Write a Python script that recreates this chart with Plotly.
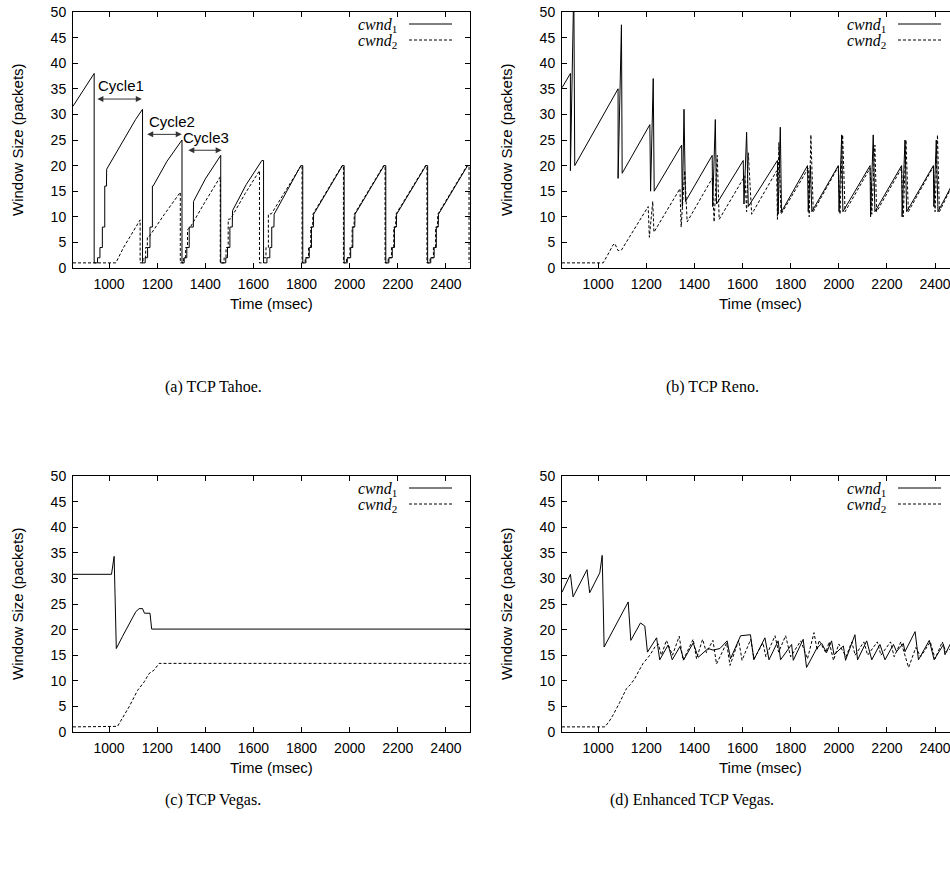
import plotly.graph_objects as go

# ---------------- DATA ----------------
# (a) TCP Tahoe
tahoe_t1 = [850, 938, 938, 952, 952, 962, 962, 972, 972, 982, 982, 989, 990, 1030, 1070, 1110, 1139,
            1139, 1150, 1150, 1160, 1160, 1170, 1170, 1180, 1180, 1183, 1240, 1303,
            1303, 1312, 1312, 1323, 1323, 1333, 1333, 1350, 1351, 1400, 1464,
            1464, 1485, 1485, 1492, 1492, 1502, 1502, 1512, 1513, 1570, 1635, 1642,
            1642, 1656, 1656, 1668, 1668, 1676, 1676, 1685, 1686, 1797, 1805,
            1805, 1818, 1818, 1832, 1832, 1841, 1841, 1849, 1850, 1970, 1977,
            1977, 1990, 1990, 2004, 2004, 2013, 2013, 2021, 2022, 2143, 2150,
            2150, 2163, 2163, 2177, 2177, 2186, 2186, 2194, 2195, 2317, 2324,
            2324, 2337, 2337, 2351, 2351, 2360, 2360, 2368, 2369, 2490, 2500]
tahoe_w1 = [31.6, 38.0, 1, 1, 2, 2, 4, 4, 8, 8, 16, 16, 19.3, 22.6, 25.9, 29.0, 31.0,
            1, 1, 2, 2, 4, 4, 8, 8, 16, 16, 20.8, 25.0,
            1, 1, 2, 2, 4, 4, 8, 8, 13, 17.4, 22.0,
            1, 1, 2, 2, 4, 4, 8, 8, 11.2, 16.3, 21.0, 21.0,
            1, 1, 2, 2, 4, 4, 8, 8, 10.5, 20.0, 20.0,
            1, 1, 2, 2, 4, 4, 8, 8, 10.5, 20.0, 20.0,
            1, 1, 2, 2, 4, 4, 8, 8, 10.5, 20.0, 20.0,
            1, 1, 2, 2, 4, 4, 8, 8, 10.5, 20.0, 20.0,
            1, 1, 2, 2, 4, 4, 8, 8, 10.5, 20.0, 20.0]
tahoe_t2 = [850, 1028, 1060, 1100, 1129,
            1129, 1141, 1141, 1152, 1152, 1159, 1159, 1166, 1230, 1296,
            1296, 1310, 1310, 1318, 1318, 1326, 1326, 1338, 1400, 1462,
            1462, 1478, 1478, 1486, 1486, 1495, 1495, 1505, 1565, 1625,
            1625, 1642, 1642, 1652, 1652, 1662, 1662, 1675, 1798, 1802,
            1802, 1815, 1815, 1829, 1829, 1838, 1838, 1846, 1847, 1968, 1974,
            1974, 1987, 1987, 2001, 2001, 2010, 2010, 2018, 2019, 2141, 2147,
            2147, 2160, 2160, 2174, 2174, 2183, 2183, 2191, 2192, 2315, 2321,
            2321, 2334, 2334, 2348, 2348, 2357, 2357, 2365, 2366, 2488, 2496, 2496]
tahoe_w2 = [1, 1, 4.0, 7.2, 9.4,
            1, 1, 2, 2, 4, 4, 6, 6.1, 10.5, 14.8,
            1, 1, 2, 2, 4, 4, 7.5, 8.0, 13.0, 17.8,
            1, 1, 2, 2, 4, 4, 9.5, 9.6, 14.5, 19.0,
            1, 1, 2, 2, 4, 4, 10.5, 10.6, 20.0, 20.0,
            1, 1, 2, 2, 4, 4, 8, 8, 10.5, 20.0, 20.0,
            1, 1, 2, 2, 4, 4, 8, 8, 10.5, 20.0, 20.0,
            1, 1, 2, 2, 4, 4, 8, 8, 10.5, 20.0, 20.0,
            1, 1, 2, 2, 4, 4, 8, 8, 10.5, 20.0, 20.0, 1]

# (b) TCP Reno
reno_t1 = [850, 885, 885, 899, 903, 1083, 1083, 1097, 1100, 1215, 1218, 1229, 1233,
           1347, 1350, 1357, 1363, 1474, 1476, 1487, 1492, 1603, 1606, 1617, 1624,
           1745, 1748, 1757, 1762, 1870, 1873, 1882, 1888, 1998, 2001, 2012, 2017,
           2130, 2132, 2143, 2150, 2261, 2263, 2275, 2282, 2393, 2395, 2405, 2412, 2470]
reno_w1 = [35.2, 38.0, 19.0, 55.0, 20.0, 35.0, 17.5, 47.5, 18.5, 28.0, 15.0, 37.0, 15.0,
           24.0, 12.0, 31.0, 13.0, 22.0, 12.0, 29.0, 12.5, 21.0, 12.5, 26.5, 12.0,
           21.0, 10.5, 27.5, 11.0, 20.0, 11.0, 20.0, 11.0, 20.0, 11.0, 26.0, 11.0,
           20.0, 10.0, 26.0, 11.0, 20.0, 10.0, 25.0, 11.0, 20.0, 12.0, 25.0, 11.0, 16.2]
reno_t2 = [850, 1021, 1045, 1062, 1069, 1076, 1083, 1097, 1208, 1213, 1227, 1232,
           1340, 1345, 1360, 1370, 1474, 1482, 1495, 1503, 1610, 1617, 1624, 1638,
           1742, 1745, 1751, 1760, 1873, 1877, 1884, 1894, 1998, 2005, 2016, 2026,
           2130, 2137, 2150, 2157, 2261, 2268, 2279, 2289, 2393, 2400, 2410, 2418, 2470]
reno_w2 = [1, 1, 3.0, 4.5, 4.8, 4.0, 3.4, 3.5, 12.0, 6.0, 13.0, 7.0,
           15.5, 8.0, 19.0, 9.0, 17.5, 9.0, 22.0, 9.5, 18.0, 11.0, 22.5, 10.5,
           19.0, 9.5, 24.5, 10.5, 19.5, 10.0, 26.0, 11.0, 19.8, 10.5, 26.0, 11.0,
           19.5, 10.5, 24.0, 11.0, 19.5, 10.0, 25.0, 11.0, 19.8, 11.0, 26.0, 11.0, 16.0]

# (c) TCP Vegas
vegas_t1 = [850, 1010, 1021, 1028, 1030, 1055, 1083, 1111, 1125, 1139, 1147, 1170, 1177, 2500]
vegas_w1 = [30.8, 30.8, 34.3, 16.3, 16.3, 18.6, 21.2, 23.5, 24.1, 24.1, 23.2, 23.2, 20.1, 20.1]
vegas_t2 = [850, 1035, 1083, 1118, 1146, 1166, 1187, 1208, 2500]
vegas_w2 = [1, 1.1, 4.9, 8.1, 9.8, 11.4, 12.1, 13.4, 13.4]

# (d) Enhanced TCP Vegas
evegas_t1 = [850, 885, 896, 954, 965, 1007, 1017, 1025, 1125, 1136, 1176, 1194, 1205,
             1243, 1256, 1291, 1308, 1340, 1356, 1395, 1416, 1457, 1478, 1506, 1536,
             1550, 1592, 1633, 1647, 1693, 1710, 1748, 1758, 1804, 1811, 1852, 1866,
             1908, 1929, 1949, 1970, 1980, 2019, 2028, 2067, 2078, 2116, 2137, 2171,
             2192, 2227, 2240, 2268, 2275, 2317, 2331, 2376, 2396, 2435, 2441, 2470]
evegas_w1 = [27.3, 30.8, 26.4, 31.7, 27.2, 31.1, 34.5, 16.6, 25.4, 17.9, 21.3, 20.7, 15.6,
             18.4, 14.1, 17.0, 14.1, 16.7, 14.1, 17.4, 14.6, 16.3, 16.0, 16.3, 17.8,
             14.3, 18.8, 19.0, 14.1, 18.4, 14.1, 17.8, 14.1, 17.1, 14.0, 18.1, 12.6,
             16.3, 17.3, 15.5, 17.8, 15.1, 16.8, 14.0, 19.0, 14.1, 17.8, 14.1, 17.1,
             14.1, 17.1, 15.7, 17.3, 15.7, 19.6, 14.1, 17.9, 14.1, 17.1, 15.1, 17.8]
evegas_t2 = [850, 1028, 1045, 1062, 1090, 1118, 1135, 1152, 1170, 1187, 1215, 1236,
             1250, 1263, 1284, 1309, 1337, 1353, 1395, 1409, 1434, 1450, 1477, 1492,
             1534, 1548, 1584, 1598, 1634, 1648, 1685, 1697, 1735, 1750, 1779, 1800,
             1842, 1870, 1897, 1910, 1918, 1946, 1960, 1978, 2000, 2030, 2054, 2068,
             2104, 2120, 2160, 2175, 2215, 2230, 2258, 2290, 2320, 2340, 2380, 2400,
             2430, 2445, 2470]
evegas_w2 = [1, 1, 2.0, 3.3, 5.8, 8.5, 9.3, 10.4, 12.0, 13.4, 15.0, 16.6,
             17.2, 15.0, 17.9, 15.0, 18.7, 14.0, 18.1, 14.3, 18.1, 15.5, 17.9, 13.3,
             17.4, 13.0, 17.9, 14.0, 18.1, 14.3, 17.4, 14.7, 18.8, 15.6, 18.8, 14.7,
             17.8, 14.3, 19.4, 16.0, 17.9, 15.5, 17.6, 14.0, 17.2, 14.7, 17.6, 15.0,
             17.6, 15.0, 17.6, 15.0, 17.6, 14.7, 17.6, 12.6, 16.5, 14.7, 17.6, 14.3,
             17.6, 15.6, 16.5]

x_ticks = [1000, 1200, 1400, 1600, 1800, 2000, 2200, 2400]
y_ticks = [0, 5, 10, 15, 20, 25, 30, 35, 40, 45, 50]
captions = ["(a) TCP Tahoe.", "(b) TCP Reno.", "(c) TCP Vegas.", "(d) Enhanced TCP Vegas."]
series_names = ["<i>cwnd</i><sub>1</sub>", "<i>cwnd</i><sub>2</sub>"]
cycle_labels = ["Cycle1", "Cycle2", "Cycle3"]
cycle_spans = [(945, 1136, 33.0), (1152, 1302, 26.1), (1323, 1468, 23.0)]
cycle_text_pos = [(1051, 35.6), (1262, 28.6), (1402, 25.5)]

# ---------------- LAYOUT ----------------
W, H = 950, 873
def px(x):
    return x / W
def py(y):
    return 1 - y / H

SANS = "Liberation Sans, Arial, sans-serif"
SERIF = "Liberation Serif, Times New Roman, serif"
TICK_SIZE = 14
TITLE_SIZE = 15

panels = [
    dict(t1=tahoe_t1, w1=tahoe_w1, t2=tahoe_t2, w2=tahoe_w2, x0=73, x1=470, top=12, bot=268, xr=[850, 2500], right=True),
    dict(t1=reno_t1, w1=reno_w1, t2=reno_t2, w2=reno_w2, x0=562, x1=950, top=12, bot=268, xr=[850, 2462], right=False),
    dict(t1=vegas_t1, w1=vegas_w1, t2=vegas_t2, w2=vegas_w2, x0=73, x1=470, top=476, bot=732, xr=[850, 2500], right=True),
    dict(t1=evegas_t1, w1=evegas_w1, t2=evegas_t2, w2=evegas_w2, x0=562, x1=950, top=476, bot=732, xr=[850, 2462], right=False),
]
caption_pos = [(213, 387), (712, 387), (213, 800), (692, 800)]

fig = go.Figure()
annotations = []
shapes = []
layout = {}

for i, p in enumerate(panels):
    k = i + 1
    xa = "x" if k == 1 else f"x{k}"
    ya = "y" if k == 1 else f"y{k}"
    xname = "xaxis" if k == 1 else f"xaxis{k}"
    yname = "yaxis" if k == 1 else f"yaxis{k}"
    fig.add_trace(go.Scatter(x=p["t1"], y=p["w1"], mode="lines", xaxis=xa, yaxis=ya,
                             line=dict(color="black", width=1), showlegend=False, hoverinfo="skip"))
    fig.add_trace(go.Scatter(x=p["t2"], y=p["w2"], mode="lines", xaxis=xa, yaxis=ya,
                             line=dict(color="black", width=1, dash="3px,2px"), showlegend=False,
                             hoverinfo="skip"))
    layout[xname] = dict(domain=[px(p["x0"]), px(p["x1"])], anchor=ya, range=p["xr"],
                         tickvals=x_ticks, ticks="inside", ticklen=5, tickwidth=1, tickcolor="black",
                         showline=True, linecolor="black", linewidth=1, mirror="ticks",
                         showgrid=False, zeroline=False, automargin=False, ticklabeloverflow="allow",
                         tickfont=dict(family=SANS, size=TICK_SIZE, color="black"), ticklabelstandoff=3)
    layout[yname] = dict(domain=[py(p["bot"]), py(p["top"])], anchor=xa, range=[0, 50],
                         tickvals=y_ticks, ticks="inside", ticklen=5, tickwidth=1, tickcolor="black",
                         showline=True, linecolor="black", linewidth=1,
                         mirror="ticks" if p["right"] else False,
                         showgrid=False, zeroline=False, automargin=False, ticklabeloverflow="allow",
                         tickfont=dict(family=SANS, size=TICK_SIZE, color="black"), ticklabelstandoff=3)
    # axis titles
    cx = p["x0"] + 397 / 2
    annotations.append(dict(text="Time (msec)", x=px(cx), y=py(p["bot"] + 35), xref="paper", yref="paper",
                            showarrow=False, xanchor="center", yanchor="middle",
                            font=dict(family=SANS, size=TITLE_SIZE, color="black")))
    annotations.append(dict(text="Window Size (packets)", x=px(p["x0"] - 56), y=py((p["top"] + p["bot"]) / 2),
                            xref="paper", yref="paper", showarrow=False, textangle=-90,
                            xanchor="center", yanchor="middle",
                            font=dict(family=SANS, size=TITLE_SIZE, color="black")))
    # caption
    cxp, cyp = caption_pos[i]
    annotations.append(dict(text=captions[i], x=px(cxp), y=py(cyp), xref="paper", yref="paper",
                            showarrow=False, xanchor="center", yanchor="middle",
                            font=dict(family=SERIF, size=16, color="black")))
    # legend
    lx_text = p["x0"] + 326
    for j, nm in enumerate(series_names):
        yy = p["top"] + 13 + 16 * j
        annotations.append(dict(text=nm, x=px(lx_text), y=py(yy), xref="paper", yref="paper",
                                showarrow=False, xanchor="right", yanchor="middle",
                                font=dict(family=SERIF, size=16, color="black")))
        shapes.append(dict(type="line", xref="paper", yref="paper",
                           x0=px(lx_text + 10), x1=px(lx_text + 53), y0=py(yy - 1), y1=py(yy - 1),
                           line=dict(color="black", width=1, dash="solid" if j == 0 else "3px,2px")))

# cycle annotations in panel (a)
for lab, (a0, a1, yv), (tx, ty) in zip(cycle_labels, cycle_spans, cycle_text_pos):
    annotations.append(dict(text="", x=a1, y=yv, ax=a0, ay=yv, xref="x", yref="y", axref="x", ayref="y",
                            showarrow=True, arrowside="end+start", arrowhead=2, arrowsize=1.2,
                            arrowwidth=1, arrowcolor="#333333", standoff=0, startstandoff=0))
    annotations.append(dict(text=lab, x=tx, y=ty, xref="x", yref="y", showarrow=False,
                            xanchor="center", yanchor="middle",
                            font=dict(family=SANS, size=15, color="black")))

fig.update_layout(width=W, height=H, margin=dict(l=0, r=0, t=0, b=0),
                  paper_bgcolor="white", plot_bgcolor="white", hovermode=False,
                  annotations=annotations, shapes=shapes, showlegend=False, **layout)

fig.write_html("out.html", config={"displayModeBar": False, "staticPlot": True},
               post_script="document.body.style.margin='0px';document.body.style.overflow='hidden';")
